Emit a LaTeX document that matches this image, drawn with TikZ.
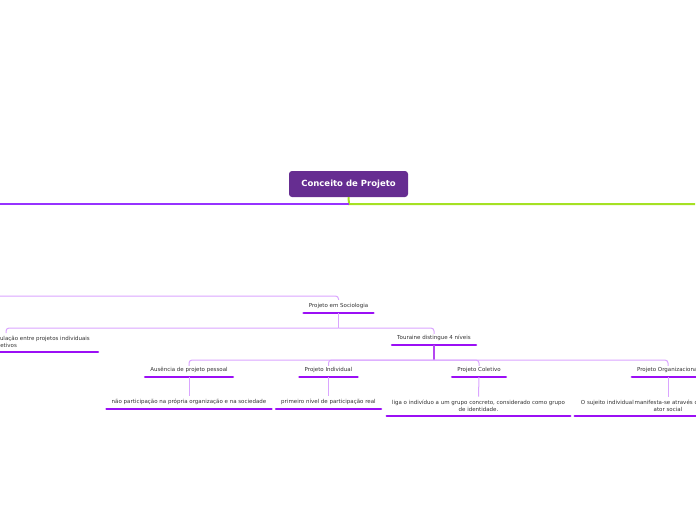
\documentclass[tikz,border=0pt]{standalone}
\usepackage{fontspec}
\setmainfont{DejaVu Sans}
\usetikzlibrary{calc}
\definecolor{rootfill}{RGB}{102,45,145}
\definecolor{mainL}{RGB}{150,50,255}
\definecolor{mainR}{RGB}{165,225,35}
\definecolor{uline}{RGB}{155,15,245}
\definecolor{conn}{RGB}{218,165,255}
\definecolor{connd}{RGB}{180,70,240}
\definecolor{txt}{RGB}{50,50,50}
\tikzset{
  rootbox/.style={fill=rootfill, rounded corners=3pt, minimum width=119pt, minimum height=26pt,
    text=white, font=\fontsize{8.5}{10}\selectfont\bfseries, inner sep=0pt},
  topic/.style={font=\fontsize{5.5}{7}\selectfont, text=txt, inner xsep=5pt, inner ysep=3.8pt,
    text height=4pt, text depth=1.2pt, anchor=south},
  mtopic/.style={font=\fontsize{5.5}{7}\selectfont, text=txt, inner xsep=5pt, inner ysep=3.8pt,
    align=center, anchor=south},
  ul/.style={draw=uline, line width=2.6pt, line cap=round},
  cn/.style={draw=conn, line width=1pt, rounded corners=3pt},
  cnd/.style={draw=connd, line width=1.8pt},
}
\begin{document}
\begin{tikzpicture}[x=1pt,y=-1pt]
\useasboundingbox (0,0) rectangle (696,520);

% root
\node[rootbox] (root) at (348.5,184) {Conceito de Projeto};
\coordinate (hub) at (349,204);
\coordinate (mlL) at (0,204);
\coordinate (mlR) at (695,204);
\draw[mainR, line width=2pt] (root.south) -- (hub) -- (mlR);
\draw[mainL, line width=2pt] (hub) -- (mlL);

% Projeto em Sociologia
\node[topic] (soc) at (338.5,313) {Projeto em Sociologia};
\draw[ul] (soc.south west) -- (soc.south east);
\coordinate (socin) at (0,296);
\draw[cn] (socin) -| (soc.north);

% level 2
\node[mtopic, align=left, anchor=south east, inner xsep=6pt] (art) at (96,352)
  {Articulação entre projetos individuais\\e coletivos};
\draw[ul] (art.south west) -- ($(art.south east)+(2,0)$);
\node[topic] (tour) at (434,345) {Touraine distingue 4 níveis};
\draw[ul] (tour.south west) -- (tour.south east);

\coordinate (j1) at ($(soc.south)+(0,15)$);
\coordinate (artin) at (6,333);
\draw[conn, line width=1.2pt] (soc.south) -- (j1);
\draw[cn] (j1) -| ($(tour.north)+(0,2)$);
\draw[cn] (j1) -| (artin);

% level 3
\node[topic] (aus) at (189,377) {Ausência de projeto pessoal};
\node[topic] (ind) at (328.5,377) {Projeto Individual};
\node[topic] (col) at (479,377) {Projeto Coletivo};
\node[topic] (org) at (668,377) {Projeto Organizacional};
\foreach \n in {aus,ind,col,org} {\draw[ul] (\n.south west) -- (\n.south east);}

\coordinate (j2) at ($(tour.south)+(0,15)$);
\draw[cnd] (tour.south) -- (j2);
\foreach \n in {aus,ind,col,org} {\draw[cn] (j2) -| ($(\n.north)+(0,2)$);}

% level 4
\node[topic] (ausg) at (189,409) {não participação na própria organização e na sociedade};
\node[topic] (indg) at (328.5,409) {primeiro nível de participação real};
\node[mtopic] (colg) at (478.5,416)
  {liga o indivíduo a um grupo concreto, considerado como grupo\\de identidade.};
\node[mtopic] (orgg) at (668,416) {manifesta-se através do\\ator social};
\node[font=\fontsize{5.5}{7}\selectfont, text=txt, inner sep=0pt, anchor=base east] (orga)
  at (634,404) {O sujeito individual};
\foreach \n in {ausg,indg,colg} {\draw[ul] (\n.south west) -- (\n.south east);}
\draw[ul] ($(orga.west |- orgg.south)+(-6,0)$) -- (orgg.south east);

\draw[conn, line width=1pt] (aus.south) -- (ausg.north);
\draw[conn, line width=1pt] (ind.south) -- (indg.north);
\draw[conn, line width=1pt] (col.south) -- (colg.north);
\draw[conn, line width=1pt] (org.south) -- (orgg.north);
\end{tikzpicture}
\end{document}
